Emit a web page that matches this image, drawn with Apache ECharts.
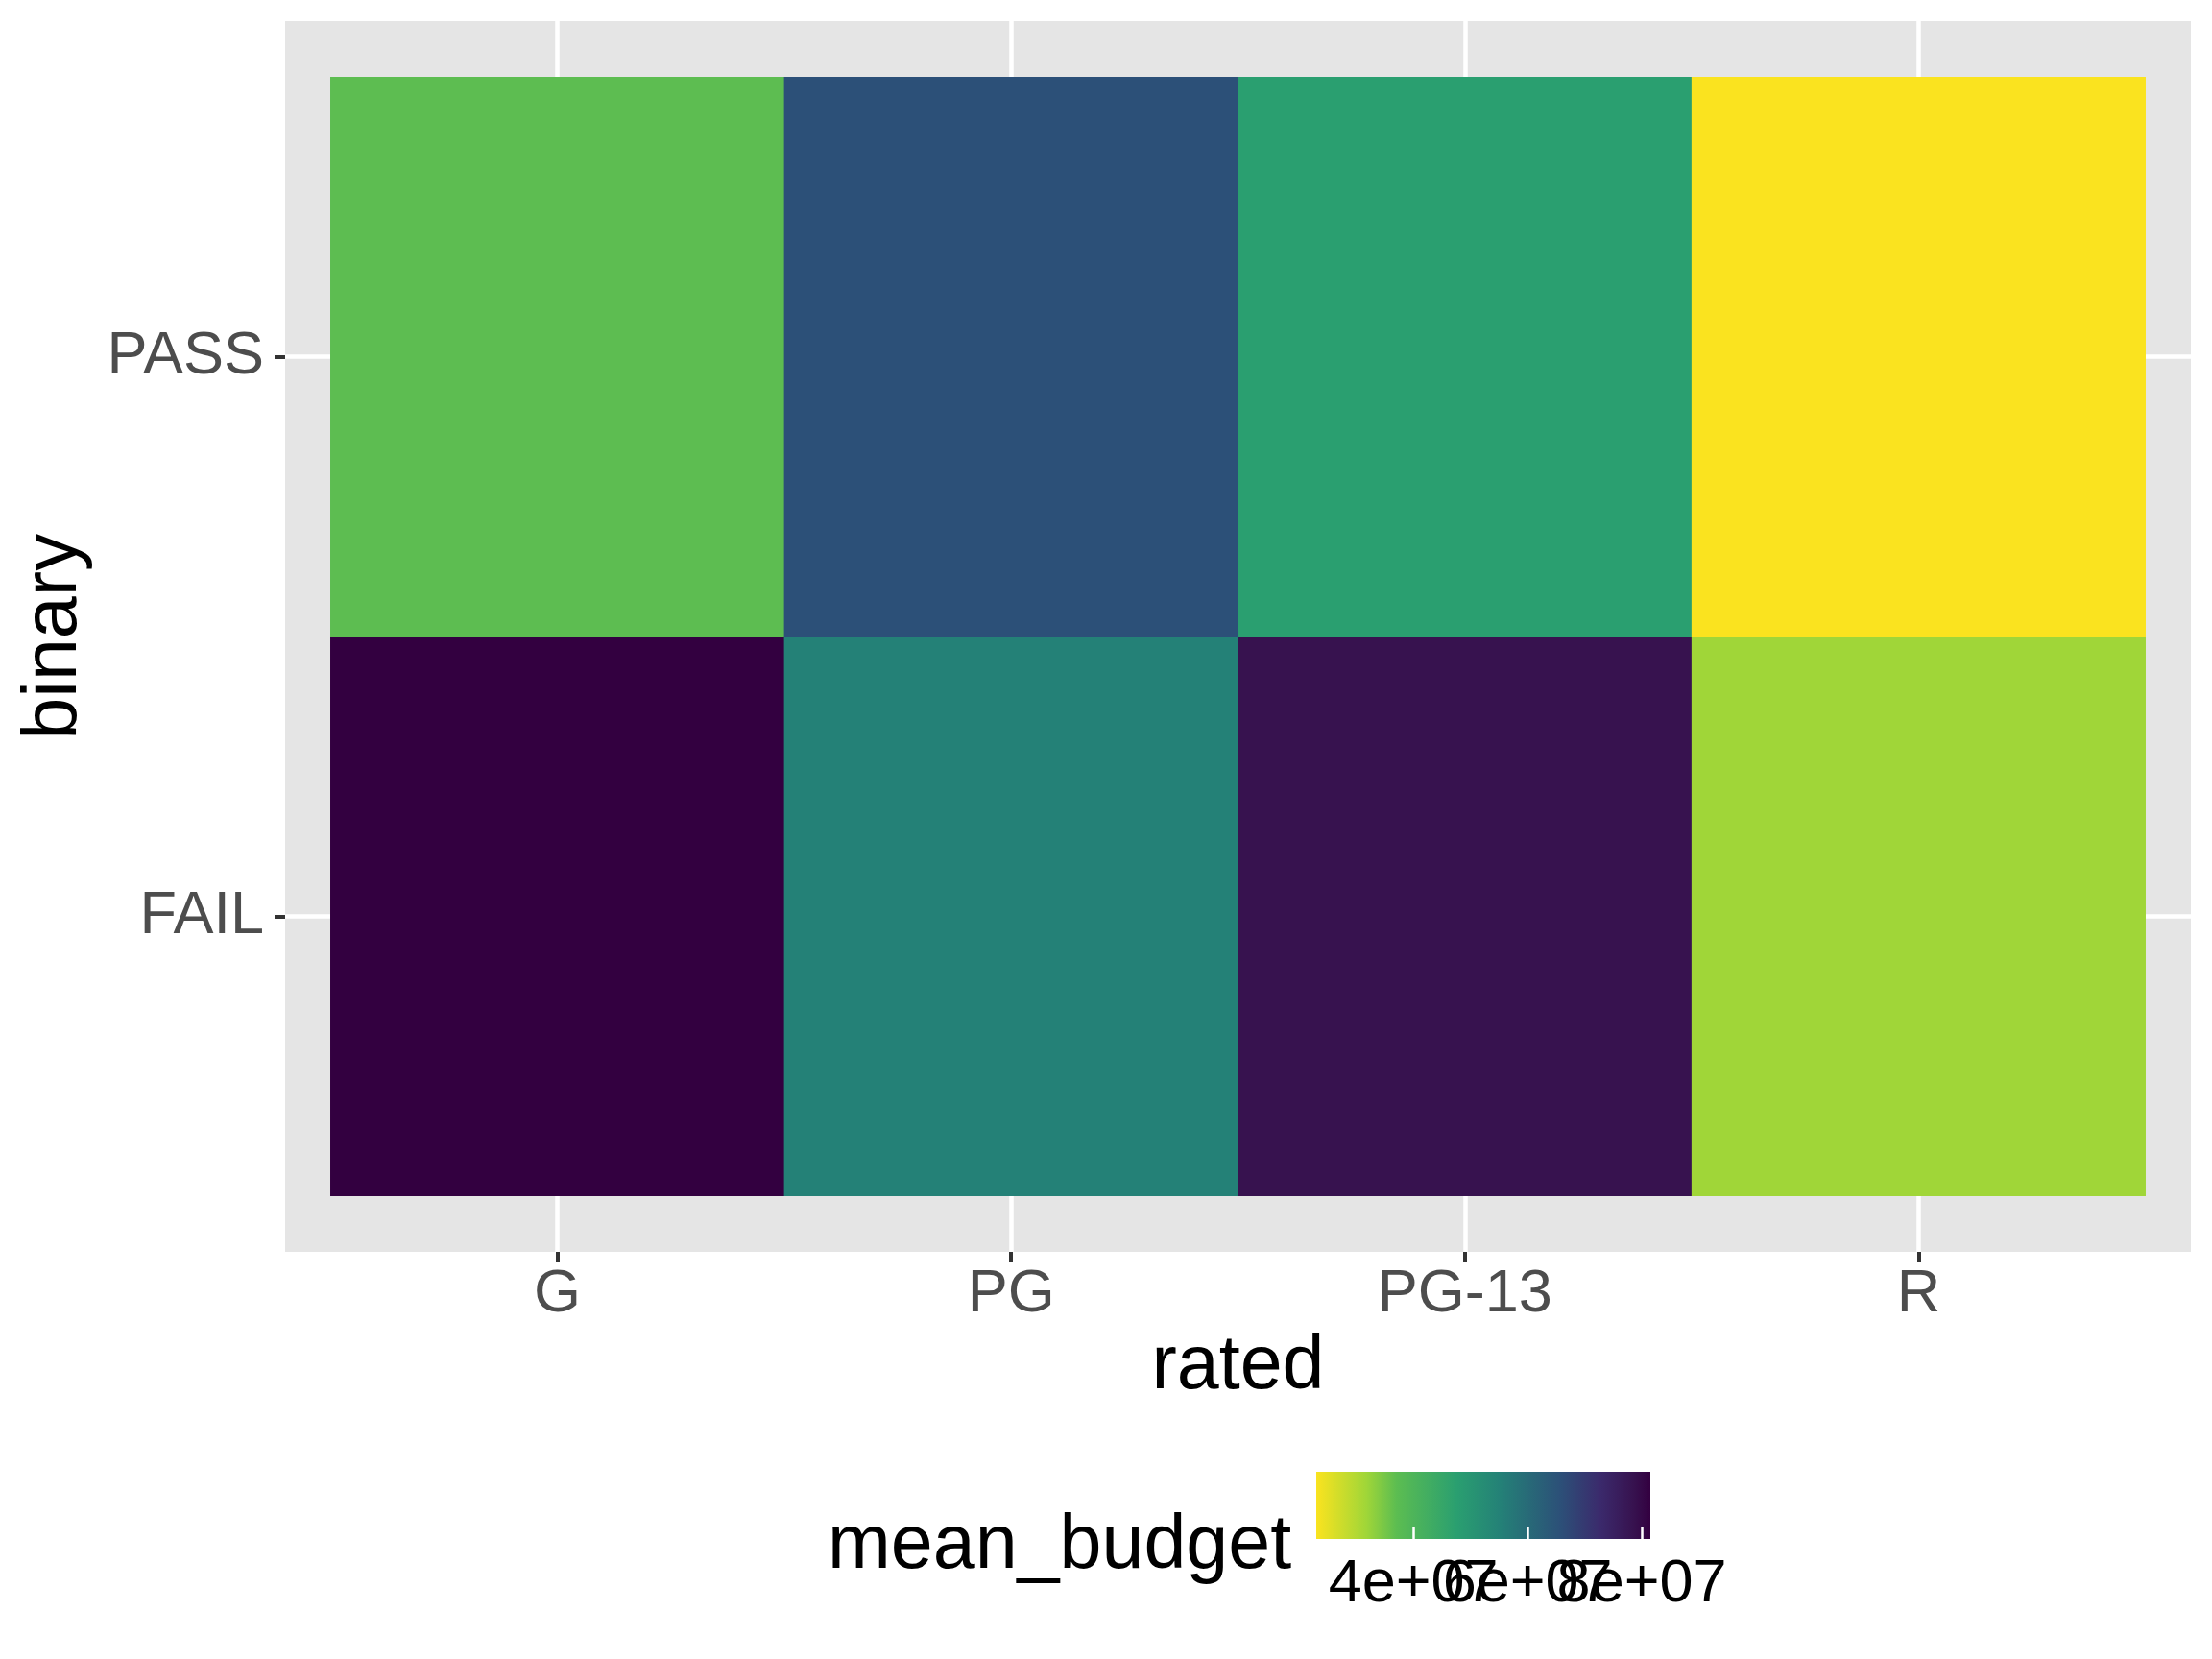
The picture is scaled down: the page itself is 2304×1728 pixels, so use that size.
<!DOCTYPE html>
<html><head><meta charset="utf-8">
<script src="https://cdn.jsdelivr.net/npm/echarts@6/dist/echarts.min.js"></script>
<style>html,body{margin:0;padding:0;background:#fff}#c{width:2304px;height:1728px}</style>
</head><body><div id="c"></div>
<script>
// ---- data ----
const rated = ['G', 'PG', 'PG-13', 'R'];
const binary = ['FAIL', 'PASS'];            // bottom to top
const passBudget = [3.70e7, 6.57e7, 4.76e7, 2.30e7];
const failBudget = [8.15e7, 5.52e7, 7.86e7, 3.18e7];
const legendTicks = [4e7, 6e7, 8e7];

// ---- build ----
const data = [];
rated.forEach((r, i) => {
  data.push([i, 0, failBudget[i]]);
  data.push([i, 1, passBudget[i]]);
});
const all = passBudget.concat(failBudget);
const vmin = Math.min(...all), vmax = Math.max(...all);

// reversed viridis-like palette (low = yellow, high = dark purple)
const anchors = [[0, '#FAE31F'], [0.15, '#A0D638'], [0.24, '#5CBD51'], [0.42, '#2A9F70'],
  [0.55, '#248177'], [0.73, '#2C5078'], [0.85, '#3B2A6C'], [0.95, '#37124F'], [1, '#330040']];
function hex2rgb(h) { return [1, 3, 5].map(k => parseInt(h.substr(k, 2), 16)); }
function colorAt(t) {
  for (let k = 1; k < anchors.length; k++) {
    if (t <= anchors[k][0]) {
      const [t0, c0] = anchors[k - 1], [t1, c1] = anchors[k];
      const f = (t - t0) / (t1 - t0);
      const a = hex2rgb(c0), b = hex2rgb(c1);
      return 'rgb(' + a.map((v, j) => Math.round(v + (b[j] - v) * f)).join(',') + ')';
    }
  }
  return anchors[anchors.length - 1][1];
}
const palette = [];
for (let k = 0; k <= 100; k++) palette.push(colorAt(k / 100));

function sci(v) {
  const e = Math.floor(Math.log10(v));
  const m = Math.round(v / Math.pow(10, e) * 100) / 100;
  return m + 'e+' + String(e).padStart(2, '0');
}

const FONT = "'Liberation Sans', Arial, Helvetica, sans-serif";
const panel = { left: 297, top: 22, width: 1985, height: 1282 };
const ux = panel.width / (rated.length + 0.2), uy = panel.height / (binary.length + 0.2);
const catIdx = rated.map((_, i) => i + 1), rowIdx = binary.map((_, i) => i + 1);

// one axis per legend tick so overlapping labels are all drawn (as in the reference)
const legendAxes = legendTicks.map(t => ({
  gridIndex: 2, type: 'value', min: vmin, max: vmax, position: 'bottom',
  axisLine: { show: false },
  axisTick: { show: true, inside: true, customValues: [t], length: 13,
    lineStyle: { color: '#FFFFFF', width: 2.5 } },
  axisLabel: { customValues: [t], formatter: v => sci(v), fontSize: 63,
    color: '#000000', margin: 16, fontFamily: FONT, hideOverlap: false,
    showMinLabel: true, showMaxLabel: true },
  splitLine: { show: false }
}));

const chart = echarts.init(document.getElementById('c'), null, { renderer: 'canvas' });
chart.setOption({
  backgroundColor: '#ffffff',
  animation: false,
  textStyle: { fontFamily: FONT },
  grid: [
    { left: panel.left, top: panel.top, width: panel.width, height: panel.height,
      show: true, backgroundColor: '#E5E5E5', borderWidth: 0 },
    { left: panel.left + 0.1 * ux, top: panel.top + 0.1 * uy, width: rated.length * ux, height: binary.length * uy,
      show: false },
    { left: 1371, top: 1533, width: 348, height: 70, show: true, borderWidth: 0,
      backgroundColor: { type: 'linear', x: 0, y: 0, x2: 1, y2: 0,
        colorStops: anchors.map(([t, c]) => ({ offset: t, color: c })) } }
  ],
  xAxis: [
    { gridIndex: 0, type: 'value', min: 0.4, max: rated.length + 0.6,
      axisLine: { show: false },
      axisTick: { show: true, customValues: catIdx, length: 11, lineStyle: { color: '#333333', width: 4 } },
      axisLabel: { customValues: catIdx, formatter: v => rated[Math.round(v) - 1], fontSize: 63,
        color: '#4D4D4D', margin: 13, fontFamily: FONT },
      splitLine: { show: true, lineStyle: { color: '#FFFFFF', width: 4.5 } },
      name: 'rated', nameLocation: 'middle', nameGap: 81,
      nameTextStyle: { fontSize: 79, color: '#000000', fontFamily: FONT } },
    { gridIndex: 1, type: 'category', data: rated, show: false },
    { gridIndex: 2, type: 'value', min: vmin, max: vmax, position: 'top',
      axisLine: { show: false },
      axisTick: { show: true, inside: true, customValues: legendTicks, length: 11,
        lineStyle: { color: '#FFFFFF', width: 2.5 } },
      axisLabel: { show: false }, splitLine: { show: false } }
  ].concat(legendAxes),
  yAxis: [
    { gridIndex: 0, type: 'value', min: 0.4, max: binary.length + 0.6,
      axisLine: { show: false },
      axisTick: { show: true, customValues: rowIdx, length: 11, lineStyle: { color: '#333333', width: 4 } },
      axisLabel: { customValues: rowIdx, formatter: v => binary[Math.round(v) - 1], fontSize: 63,
        color: '#4D4D4D', margin: 22, fontFamily: FONT },
      splitLine: { show: true, lineStyle: { color: '#FFFFFF', width: 4.5 } },
      name: 'binary', nameLocation: 'middle', nameGap: 200, nameRotate: 90,
      nameTextStyle: { fontSize: 79, color: '#000000', fontFamily: FONT } },
    { gridIndex: 1, type: 'category', data: binary, show: false },
    { gridIndex: 2, type: 'value', show: false }
  ],
  visualMap: {
    type: 'continuous', show: false, min: vmin, max: vmax, dimension: 2, seriesIndex: 0,
    inRange: { color: palette }
  },
  graphic: [
    { type: 'text', left: 862, top: 1572,
      style: { text: 'mean_budget', font: "79px " + FONT, fill: '#000000' } }
  ],
  series: [
    { type: 'heatmap', xAxisIndex: 1, yAxisIndex: 1, data: data,
      itemStyle: { borderWidth: 0 }, emphasis: { disabled: true } }
  ]
});
</script>
</body></html>
